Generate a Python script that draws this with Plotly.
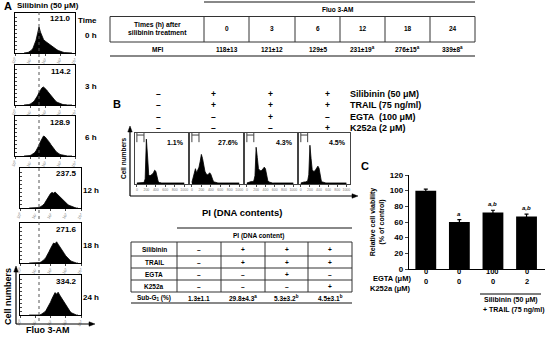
import plotly.graph_objects as go

W, H = 550, 337
def PX(x): return x / W
def PY(y): return 1 - y / H

# ---------------- DATA ----------------
# Panel A: Fluo 3-AM histograms (log10 fluorescence, % of box height)
X_LOG = [0.6,0.7,0.8,0.9,1.0,1.1,1.2,1.3,1.4,1.5,1.6,1.7,1.8,1.9,2.0,2.1,2.2,
         2.3,2.4,2.5,2.6,2.7,2.8,2.9,3.0,3.1,3.2,3.3,3.4,3.5,3.6,3.7,3.8]
H_0H  = [0,0,1,2,4,7,12,20,32,48,65,52,40,34,30,27,25,22,19,16,13,10,8,6,4,3,2,1,1,0,0,0,0]
H_3H  = [0,0,0,1,2,4,7,11,16,23,31,38,43,45,42,38,33,28,23,18,14,10,7,5,3,2,1,1,0,0,0,0,0]
H_6H  = [0,0,0,0,1,3,5,8,13,19,27,36,44,50,48,44,39,34,28,22,17,13,9,6,4,3,2,1,0,0,0,0,0]
H_12H = [0,0,0,0,0,0,1,2,4,7,11,17,24,31,36,39,37,40,36,33,29,25,21,17,13,10,7,5,3,2,1,0,0]
H_18H = [0,0,0,0,0,0,0,1,3,5,9,14,20,28,36,44,50,48,53,47,42,36,30,24,18,13,9,6,4,2,1,0,0]
H_24H = [0,0,0,0,0,0,0,0,2,4,7,11,17,24,32,41,50,56,52,57,50,44,38,31,24,18,12,8,5,3,1,0,0]
HIST_A = [H_0H, H_3H, H_6H, H_12H, H_18H, H_24H]
TIME_LABELS = ["0 h", "3 h", "6 h", "12 h", "18 h", "24 h"]
PEAK_LABELS = ["121.0", "114.2", "128.9", "237.5", "271.6", "334.2"]
LOG_TICKS = [0, 1, 2, 3, 4]
LOG_TICKTEXT = ["10⁰", "10¹", "10²", "10³", "10⁴"]

# Panel A table
TABLE_A_TIMES = ["0", "3", "6", "12", "18", "24"]
TABLE_A_MFI = ["118±13", "121±12", "129±5", "231±19<sup>a</sup>", "276±15<sup>a</sup>", "339±8<sup>a</sup>"]

# Panel B: PI histograms (DNA content, % of box height)
X_PI = [0,25,50,75,100,125,150,175,200,225,250,275,300,325,350,375,400,425,450,475,500,
        525,550,575,600,625,650,675,700,725,750,775,800,825,850,875,900,925,950,975,1000]
PI_1 = [2,2,2,2,2,2,3,10,88,55,18,16,17,19,22,27,25,12,5,3,2,2,2,2,2,2,2,2,2,2,2,2,2,2,2,2,2,2,2,2,2]
PI_2 = [3,12,26,30,22,27,33,44,58,50,34,25,20,18,19,22,19,10,6,4,3,3,2,2,2,2,2,2,2,2,2,2,2,2,2,2,2,2,2,2,2]
PI_3 = [2,3,4,4,5,5,6,16,72,52,30,27,26,27,30,33,30,15,7,4,3,3,2,2,2,2,2,2,2,2,2,2,2,2,2,2,2,2,2,2,2]
PI_4 = [2,3,3,4,4,5,6,18,76,50,28,25,25,28,32,35,31,14,6,4,3,3,2,2,2,2,2,2,2,2,2,2,2,2,2,2,2,2,2,2,2]
HIST_B = [PI_1, PI_2, PI_3, PI_4]
SUBG1_PCT = ["1.1%", "27.6%", "4.3%", "4.5%"]
PI_TICKS = [0, 200, 400, 600, 800, 1000]
TREATMENTS = ["Silibinin (50 μM)", "TRAIL (75 ng/ml)", "EGTA  (100 μM)", "K252a (2 μM)"]
SIGNS = [["–", "+", "+", "+"],
         ["–", "+", "+", "+"],
         ["–", "–", "+", "–"],
         ["–", "–", "–", "+"]]

# Panel B table
TABLE_B_ROWS = ["Silibinin", "TRAIL", "EGTA", "K252a"]
TABLE_B_SUBG1 = ["1.3±1.1", "29.8±4.3<sup>a</sup>", "5.3±3.2<sup>b</sup>", "4.5±3.1<sup>b</sup>"]

# Panel C: cell viability
VIAB = [100, 60, 72, 67]
VIAB_ERR = [2, 3, 3, 3]
VIAB_SIG = ["", "a", "a,b", "a,b"]
EGTA_UM = ["0", "0", "100", "0"]
K252A_UM = ["0", "0", "0", "2"]
Y_TICKS_C = [0, 20, 40, 60, 80, 100, 120]

# ---------------- FIGURE ----------------
FONT = "Liberation Sans"
fig = go.Figure()
layout = dict(width=W, height=H, margin=dict(l=0, r=0, t=0, b=0),
              paper_bgcolor="white", plot_bgcolor="white", showlegend=False,
              template="none", font=dict(family=FONT, color="black"))
ann, shp = [], []

def txt(x, y, s, size=7, bold=True, xa="center", ya="middle", angle=0, color="black"):
    ann.append(dict(x=PX(x), y=PY(y), xref="paper", yref="paper", text=(f"<b>{s}</b>" if bold else s),
                    showarrow=False, xanchor=xa, yanchor=ya, textangle=angle,
                    font=dict(family=FONT, size=size, color=color)))

def hline(x0, x1, y, w=1, c="#333"):
    shp.append(dict(type="line", xref="paper", yref="paper", x0=PX(x0), x1=PX(x1), y0=PY(y), y1=PY(y),
                    line=dict(color=c, width=w)))

def vline(x, y0, y1, w=1, c="#333", dash=None):
    shp.append(dict(type="line", xref="paper", yref="paper", x0=PX(x), x1=PX(x), y0=PY(y0), y1=PY(y1),
                    line=dict(color=c, width=w, dash=dash)))

def arrow(hx, hy, tx, ty):
    shp.append(dict(type="line", xref="paper", yref="paper", x0=PX(tx), y0=PY(ty), x1=PX(hx), y1=PY(hy),
                    line=dict(color="black", width=1.2)))
    if hx == tx:  # vertical up
        pts = [(hx, hy - 2), (hx - 2.2, hy + 4), (hx + 2.2, hy + 4)]
    else:  # horizontal right
        pts = [(hx + 2, hy), (hx - 4, hy - 2.2), (hx - 4, hy + 2.2)]
    path = "M {} {} L {} {} L {} {} Z".format(*[v for p in pts for v in (PX(p[0]), PY(p[1]))])
    shp.append(dict(type="path", xref="paper", yref="paper", path=path,
                    fillcolor="black", line=dict(color="black", width=0.5)))

axn = 0
def new_axes():
    global axn
    axn += 1
    return "" if axn == 1 else str(axn)

# ---- Panel A histograms ----
A_TOPS = [13, 65, 116, 168, 223, 275]
A_H = 40
A_X = [(15, 75)] * 3 + [(20, 81)] * 3
for i in range(6):
    s = new_axes()
    x0, x1 = A_X[i]
    top = A_TOPS[i]
    layout["xaxis" + s] = dict(domain=[PX(x0), PX(x1)], range=[0, 4], anchor="y" + s,
                               showline=True, mirror=True, linecolor="black", linewidth=1,
                               showgrid=False, zeroline=False, automargin=False,
                               tickvals=LOG_TICKS, ticktext=LOG_TICKTEXT, tickangle=-60,
                               tickfont=dict(size=4, color="#777"), ticks="outside", ticklen=1.5)
    layout["yaxis" + s] = dict(domain=[PY(top + A_H), PY(top)], range=[0, 100], anchor="x" + s,
                               showline=True, mirror=True, linecolor="black", linewidth=1,
                               showgrid=False, zeroline=False, automargin=False,
                               showticklabels=False, ticks="inside", ticklen=1.5,
                               tickvals=[10, 20, 30, 40, 50, 60, 70, 80, 90])
    fig.add_trace(go.Scatter(x=X_LOG, y=HIST_A[i], xaxis="x" + s, yaxis="y" + s, mode="lines",
                             line=dict(color="black", width=0.8), fill="tozeroy",
                             fillcolor="black", hoverinfo="skip"))
    txt(x1 - 2, top + 6, PEAK_LABELS[i], size=8, xa="right")
    txt(91, top + 22, TIME_LABELS[i], size=8)

vline(39, 12, 323, w=1, c="#555", dash="dot")
txt(2, 6, "A", size=11, xa="left")
txt(15, 6, "Silibinin (50 μM)", size=8, xa="left")
txt(87, 20, "Time", size=8)
txt(8, 297, "Cell numbers", size=9, angle=-90)
txt(48, 330, "Fluo 3-AM", size=9)
arrow(16, 268, 16, 324)
arrow(93, 324, 16, 324)

# ---- Panel A table ----
A_COLS = [204, 249, 295, 340, 385, 430, 475]
hline(204, 475, 2, w=2, c="#888")
txt(337, 9, "Fluo 3-AM", size=6.5)
hline(110, 475, 16.5)
hline(110, 475, 42)
hline(110, 475, 56, w=2, c="#888")
for xv in [110] + A_COLS:
    vline(xv, 16.5, 42)
txt(157, 25, "Times (h) after", size=6.8)
txt(157, 33, "silibinin treatment", size=6.8)
txt(157, 49, "MFI", size=6.5)
for j in range(6):
    cx = (A_COLS[j] + A_COLS[j + 1]) / 2
    txt(cx, 29, TABLE_A_TIMES[j], size=6.5)
    txt(cx, 49, TABLE_A_MFI[j], size=6.5)

# ---- Panel B histograms ----
B_X = [(135, 188), (190, 243), (245, 297), (299, 350)]
B_TOP, B_BOT = 133, 184
SIGN_X = [158, 213, 270, 327]
SIGN_Y = [94, 105, 117, 128]
for k in range(4):
    s = new_axes()
    x0, x1 = B_X[k]
    layout["xaxis" + s] = dict(domain=[PX(x0), PX(x1)], range=[-40, 1080], anchor="y" + s,
                               showline=True, mirror=True, linecolor="#444", linewidth=1,
                               showgrid=False, zeroline=False, automargin=False,
                               tickvals=PI_TICKS, ticktext=[str(t) for t in PI_TICKS],
                               tickfont=dict(size=3.5, color="#777"), ticks="outside", ticklen=1.5)
    layout["yaxis" + s] = dict(domain=[PY(B_BOT), PY(B_TOP)], range=[0, 100], anchor="x" + s,
                               showline=True, mirror=True, linecolor="#444", linewidth=1,
                               showgrid=False, zeroline=False, automargin=False,
                               showticklabels=False, ticks="")
    fig.add_trace(go.Scatter(x=X_PI, y=HIST_B[k], xaxis="x" + s, yaxis="y" + s, mode="lines",
                             line=dict(color="black", width=0.8), fill="tozeroy",
                             fillcolor="black", hoverinfo="skip"))
    for (gx0, gx1, gy0, gy1) in [(0, 0, 82, 100), (150, 150, 82, 100), (0, 150, 96, 96)]:
        shp.append(dict(type="line", xref="x" + s, yref="y" + s, x0=gx0, x1=gx1, y0=gy0, y1=gy1,
                        line=dict(color="#444", width=1)))
    txt(x1 - 2, 142, SUBG1_PCT[k], size=7, xa="right")
    for r in range(4):
        txt(SIGN_X[k], SIGN_Y[r], SIGNS[r][k], size=8.5)
for r in range(4):
    txt(348, SIGN_Y[r], TREATMENTS[r], size=9, xa="left")
txt(117, 104, "B", size=11)
txt(123, 158, "Cell numbers", size=6.5, angle=-90)
txt(242, 213, "PI (DNA contents)", size=9.5)
arrow(130, 128, 130, 196)
arrow(356, 196, 130, 196)

# ---- Panel B table ----
B_COLS = [177, 221, 265, 308, 352]
ROW_LINES = [242, 256, 268, 280, 292]
hline(177, 352, 228, w=2, c="#888")
txt(258, 236, "PI (DNA content)", size=6.5)
for yv in ROW_LINES:
    hline(131, 352, yv)
hline(131, 352, 303, w=2, c="#888")
for xv in [131] + B_COLS:
    vline(xv, 242, 292)
ROW_Y = [249, 262, 274, 286]
for r in range(4):
    txt(154, ROW_Y[r], TABLE_B_ROWS[r], size=6.5)
    for k in range(4):
        cx = (B_COLS[k] + B_COLS[k + 1]) / 2
        txt(cx, ROW_Y[r], SIGNS[r][k], size=6.5)
txt(154, 298, "Sub-G<sub>1</sub> (%)", size=6.5)
for k in range(4):
    cx = (B_COLS[k] + B_COLS[k + 1]) / 2
    txt(cx, 298, TABLE_B_SUBG1[k], size=6.5)

# ---- Panel C bar chart ----
s = new_axes()
layout["xaxis" + s] = dict(domain=[PX(409), PX(545)], range=[-0.5, 3.55], anchor="y" + s,
                           showline=True, linecolor="black", linewidth=1.2, showgrid=False,
                           zeroline=False, showticklabels=False, ticks="", automargin=False)
layout["yaxis" + s] = dict(domain=[PY(269), PY(175)], range=[0, 120], anchor="x" + s,
                           showline=True, linecolor="black", linewidth=1.2, showgrid=False,
                           zeroline=False, tickvals=Y_TICKS_C, ticks="outside", ticklen=3,
                           tickfont=dict(family=FONT, size=8, weight="bold"), automargin=False,
                           title=dict(text="<b>Relative cell viability<br>(% of control)</b>",
                                      font=dict(size=7), standoff=4))
fig.add_trace(go.Bar(x=[0, 1, 2, 3], y=VIAB, xaxis="x" + s, yaxis="y" + s, width=0.62,
                     marker=dict(color="black", line=dict(color="black", width=0)),
                     error_y=dict(type="data", array=VIAB_ERR, color="black", thickness=1.2, width=2),
                     hoverinfo="skip"))
for i in range(4):
    if VIAB_SIG[i]:
        ann.append(dict(x=i, y=VIAB[i] + VIAB_ERR[i] + 1, xref="x" + s, yref="y" + s,
                        text=f"<b><i>{VIAB_SIG[i]}</i></b>", showarrow=False, yanchor="bottom",
                        font=dict(family=FONT, size=6)))
    ann.append(dict(x=i, y=PY(278), xref="x" + s, yref="paper", text=f"<b>{EGTA_UM[i]}</b>",
                    showarrow=False, font=dict(family=FONT, size=7.5)))
    ann.append(dict(x=i, y=PY(288), xref="x" + s, yref="paper", text=f"<b>{K252A_UM[i]}</b>",
                    showarrow=False, font=dict(family=FONT, size=7.5)))
txt(413, 278, "EGTA (μM)", size=7.5, xa="right")
txt(413, 288, "K252a (μM)", size=7.5, xa="right")
hline(480, 541, 294, w=1, c="black")
txt(511, 300, "Silibinin (50 μM)", size=7)
txt(514, 310, "+ TRAIL (75 ng/ml)", size=7)
txt(365, 166, "C", size=11)

layout["annotations"] = ann
layout["shapes"] = shp
fig.update_layout(**layout)
fig.write_html("out.html", config={"displayModeBar": False, "staticPlot": True},
               post_script="document.body.style.margin='0px';document.body.style.padding='0px';")
